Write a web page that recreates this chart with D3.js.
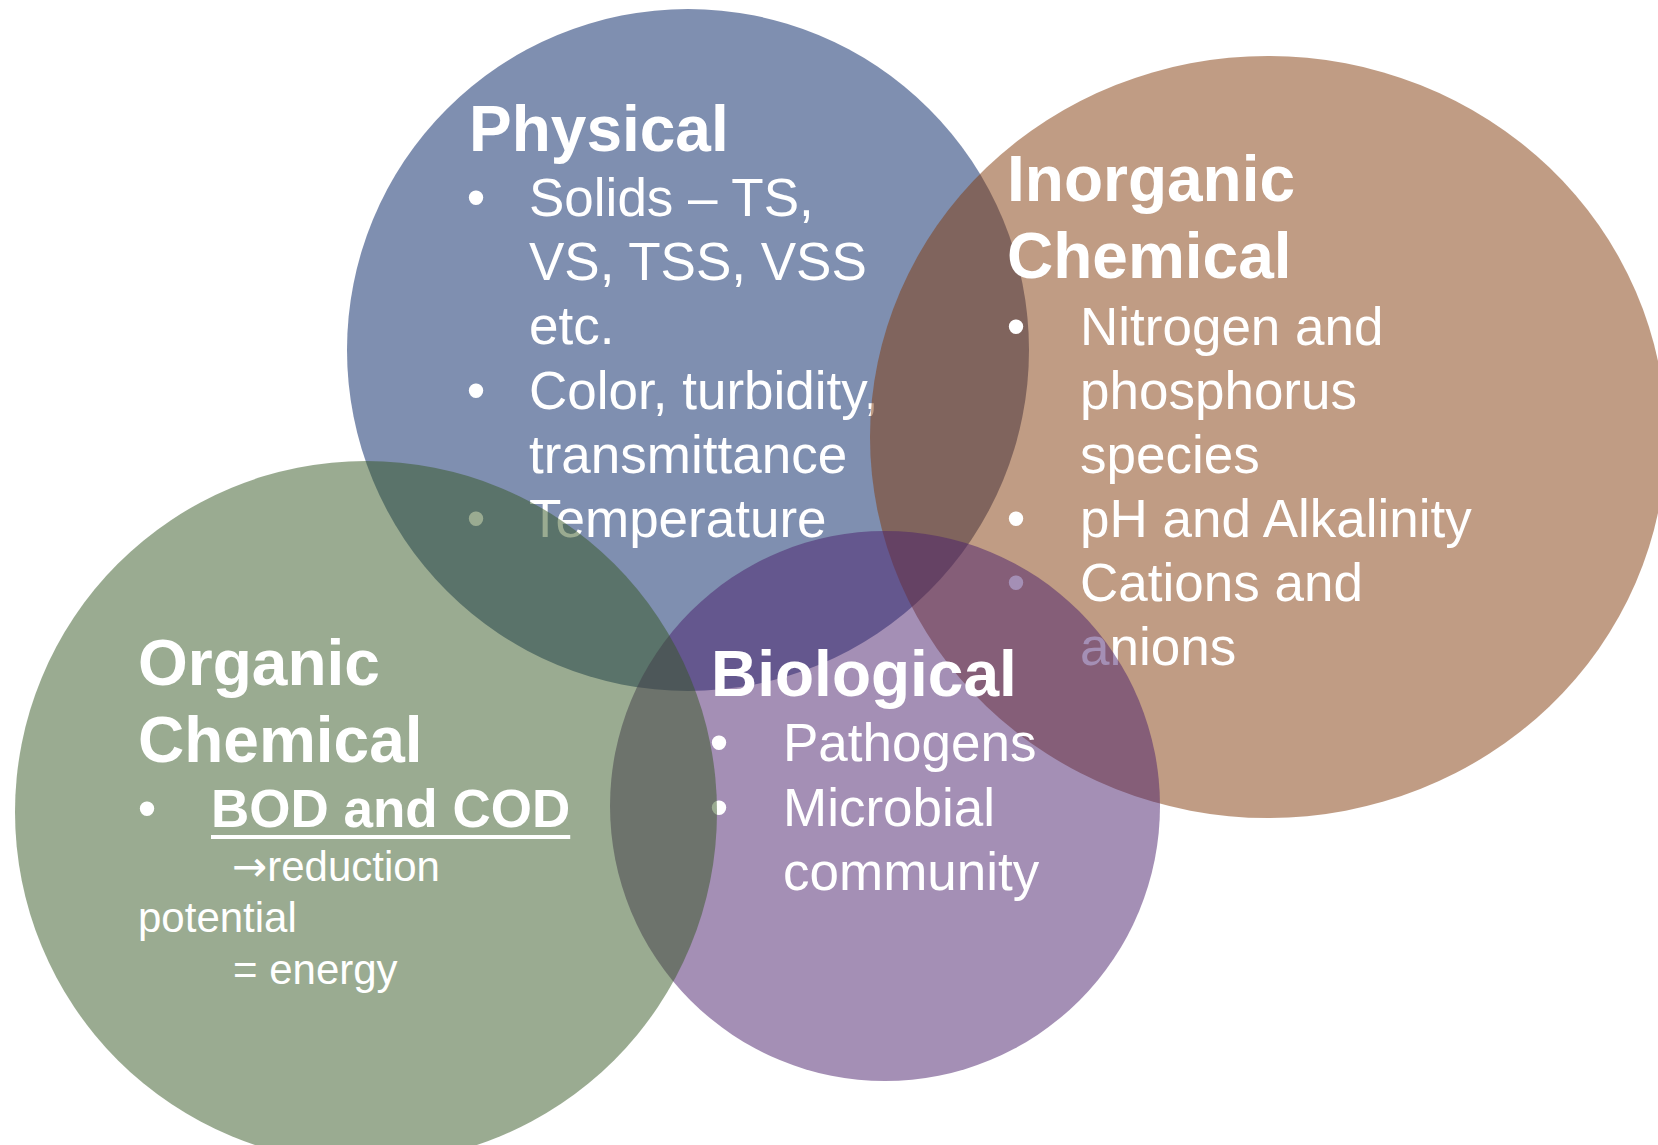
<!DOCTYPE html>
<html lang="en">
<head>
<meta charset="UTF-8">
<title>Wastewater characteristics</title>
<script src="https://d3js.org/d3.v7.min.js"></script>
<style>
  body { margin: 0; background: #fff; }
  svg { display: block; }
  text { font-family: 'Liberation Sans', Arial, sans-serif; fill: #fff; }
  .arrow { font-family: 'DejaVu Sans', sans-serif; }
</style>
</head>
<body>
<svg id="venn" width="1658" height="1145"></svg>
<script>
// categories in drawing order (later ones are drawn on top)
const categories = ["Physical", "Inorganic", "Biological", "Organic"];
const titles = [["Physical"], ["Inorganic", "Chemical"], ["Biological"], ["Organic", "Chemical"]];
const bullets = [
  [["Solids \u2013 TS,", "VS, TSS, VSS", "etc."], ["Color, turbidity,", "transmittance"], ["Temperature"]],
  [["Nitrogen and", "phosphorus", "species"], ["pH and Alkalinity"], ["Cations and", "anions"]],
  [["Pathogens"], ["Microbial", "community"]],
  [["BOD and COD"]]
];
const notes = [[], [], [], ["\u2192reduction", "potential", "= energy"]];
const colors = ["#001f61", "#813909", "#491f6b", "#355723"];

// layout of the shapes and text blocks (pixels)
const shapes = [
  {cx: 688, cy: 350, rx: 341, ry: 341},
  {cx: 1268, cy: 437, rx: 398, ry: 381},
  {cx: 885, cy: 806, rx: 275, ry: 275},
  {cx: 366, cy: 812, rx: 351, ry: 351}
];
const textPos = [
  {titleX: 469, titleY: 151, bulletX: 476, bodyX: 529, bodyY: 216, lh: 64.2},
  {titleX: 1007, titleY: 201, bulletX: 1016, bodyX: 1080, bodyY: 345, lh: 63.9},
  {titleX: 711, titleY: 696, bulletX: 719, bodyX: 783, bodyY: 761, lh: 64.5},
  {titleX: 138, titleY: 685, bulletX: 147, bodyX: 211, bodyY: 827, lh: 64, bold: true}
];
const notePos = [{x: 232, y: 881}, {x: 138, y: 932}, {x: 233, y: 984}];

const width = 1658, height = 1145;
const x = d3.scaleIdentity().domain([0, width]);
const y = d3.scaleIdentity().domain([0, height]);
const color = d3.scaleOrdinal().domain(categories).range(colors);

const svg = d3.select("#venn");

categories.forEach((cat, i) => {
  const g = svg.append("g").attr("class", "set " + cat.toLowerCase());
  const s = shapes[i], p = textPos[i];

  g.append("ellipse")
    .attr("cx", x(s.cx))
    .attr("cy", y(s.cy))
    .attr("rx", s.rx)
    .attr("ry", s.ry)
    .attr("fill", color(cat))
    .attr("fill-opacity", 0.5);

  // title
  g.selectAll("text.title")
    .data(titles[i])
    .enter()
    .append("text")
    .attr("class", "title")
    .attr("x", x(p.titleX))
    .attr("y", (d, j) => y(p.titleY + j * 77))
    .attr("font-size", 64)
    .attr("font-weight", "bold")
    .text(d => d);

  // bullet items
  let line = 0;
  bullets[i].forEach(item => {
    g.append("text")
      .attr("x", x(p.bulletX))
      .attr("y", y(p.bodyY + line * p.lh))
      .attr("text-anchor", "middle")
      .attr("font-size", 53)
      .text("\u2022");
    item.forEach(t => {
      const yy = y(p.bodyY + line * p.lh);
      const txt = g.append("text")
        .attr("x", x(p.bodyX))
        .attr("y", yy)
        .attr("font-size", 53)
        .attr("font-weight", p.bold ? "bold" : "normal")
        .text(t);
      if (p.bold) {
        const w = txt.node().getComputedTextLength();
        g.append("line")
          .attr("x1", x(p.bodyX)).attr("x2", x(p.bodyX) + w)
          .attr("y1", yy + 10).attr("y2", yy + 10)
          .attr("stroke", "#fff")
          .attr("stroke-width", 4);
      }
      line++;
    });
  });

  // smaller follow-up notes
  notes[i].forEach((t, j) => {
    const txt = g.append("text")
      .attr("class", "note")
      .attr("x", x(notePos[j].x))
      .attr("y", y(notePos[j].y))
      .attr("font-size", 42);
    if (t.startsWith("\u2192")) {
      txt.append("tspan").attr("class", "arrow").text("\u2192");
      txt.append("tspan").text(t.slice(1));
    } else {
      txt.text(t);
    }
  });
});
</script>
</body>
</html>
